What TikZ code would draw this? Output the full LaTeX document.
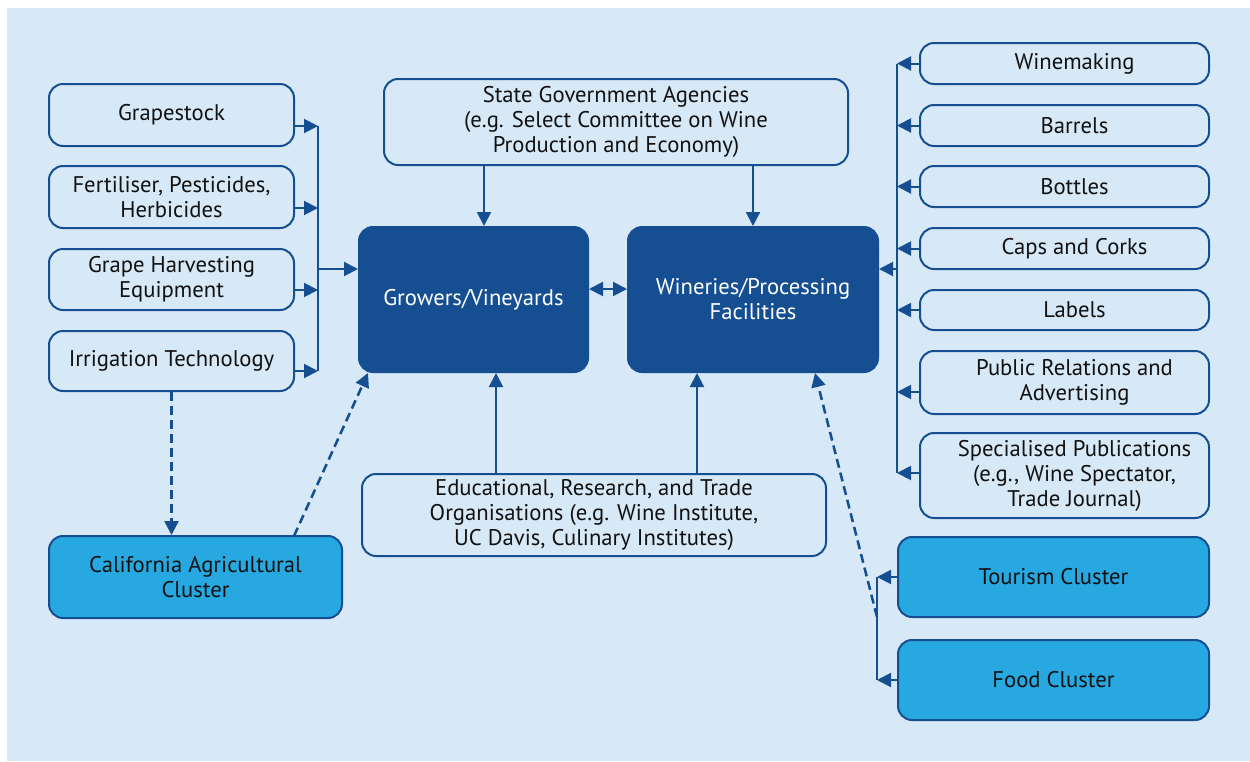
\documentclass[tikz,border=0pt]{standalone}
\usepackage{fontspec}
\setmainfont{PT Sans}
\usetikzlibrary{arrows.meta}
\newdimen\px \px=0.75pt
\definecolor{bg}{HTML}{D7E8F6}
\definecolor{dk}{HTML}{154F91}
\definecolor{cy}{HTML}{28A8E0}
\definecolor{tx}{HTML}{111111}
\begin{document}
\begin{tikzpicture}[x=0.75pt,y=-0.75pt,
  fnt/.style={font=\fontsize{17}{18.75}\selectfont},
  lbox/.style={draw=dk, line width=1.5pt, rounded corners=10.5pt, align=center,
    fnt, text=tx, inner sep=0pt},
  rbox/.style={lbox, label={[fnt, text=tx, align=center, xshift=7.5pt]center:#1}},
  dbox/.style={lbox, fill=dk, text=white},
  cbox/.style={lbox, fill=cy},
  arr/.style={draw=dk, line width=1.5pt, -{Triangle[length=10.5pt,width=10.5pt]}},
  barr/.style={draw=dk, line width=1.5pt, {Triangle[length=10.5pt,width=10.5pt]}-{Triangle[length=10.5pt,width=10.5pt]}},
  ln/.style={draw=dk, line width=1.5pt},
  dsh/.style={dash pattern=on 6.75pt off 3.75pt, line width=1.9pt}]
\fill[white] (0,0) rectangle (1250,761);
\fill[bg] (7,8) rectangle (1250,761);
\useasboundingbox (0,0) rectangle (1250,761);

% left column
\node[lbox, minimum width=245\px, minimum height=62\px] (grape) at (171.5,115) {Grapestock};
\node[lbox, minimum width=245\px, minimum height=62\px] (fert) at (171.5,197) {Fertiliser, Pesticides,\\Herbicides};
\node[lbox, minimum width=245\px, minimum height=61\px] (harv) at (171.5,279.5) {Grape Harvesting\\Equipment};
\node[lbox, minimum width=245\px, minimum height=60\px] (irr) at (171.5,361) {Irrigation Technology};

% centre
\node[lbox, minimum width=464\px, minimum height=86\px] (state) at (616,122) {State Government Agencies\\(e.g. Select Committee on Wine\\Production and Economy)};
\node[dbox, minimum width=229\px, minimum height=145\px] (grow) at (473.5,299.5) {Growers/Vineyards};
\node[dbox, minimum width=250\px, minimum height=145\px] (win) at (753,299.5) {Wineries/Processing\\Facilities};
\node[lbox, minimum width=464\px, minimum height=82\px] (edu) at (594,515) {Educational, Research, and Trade\\Organisations (e.g. Wine Institute,\\UC Davis, Culinary Institutes)};

% right column
\node[rbox={Winemaking}, minimum width=289\px, minimum height=41\px] (wm) at (1064.5,63.5) {};
\node[rbox={Barrels}, minimum width=289\px, minimum height=41\px] (bar) at (1064.5,125.5) {};
\node[rbox={Bottles}, minimum width=289\px, minimum height=41\px] (bot) at (1064.5,186.5) {};
\node[rbox={Caps and Corks}, minimum width=289\px, minimum height=41\px] (caps) at (1064.5,248.5) {};
\node[rbox={Labels}, minimum width=289\px, minimum height=40\px] (lab) at (1064.5,310) {};
\node[rbox={Public Relations and\\Advertising}, minimum width=289\px, minimum height=63\px] (pr) at (1064.5,382.5) {};
\node[rbox={Specialised Publications\\(e.g., Wine Spectator,\\Trade Journal)}, minimum width=289\px, minimum height=85\px] (spec) at (1064.5,475.5) {};

% clusters
\node[cbox, minimum width=293\px, minimum height=82\px] (cal) at (195.5,577) {California Agricultural\\Cluster};
\node[cbox, minimum width=311\px, minimum height=80\px] (tour) at (1053.5,577) {Tourism Cluster};
\node[cbox, minimum width=311\px, minimum height=80\px] (food) at (1053.5,680) {Food Cluster};

% helper coordinates
\coordinate (lbx) at (318,0);
\coordinate (ly1) at (0,126);
\coordinate (ly2) at (0,208);
\coordinate (ly3) at (0,290);
\coordinate (ly4) at (0,371);
\coordinate (lyg) at (0,269);
\coordinate (rbx) at (897,0);
\coordinate (ry6) at (0,392);
\coordinate (ry7) at (0,473);
\coordinate (ryw) at (0,269);
\coordinate (mid) at (0,289);
\coordinate (s1) at (484,0);
\coordinate (e1) at (496,0);
\coordinate (e2) at (697,0);
\coordinate (cbx) at (877,0);
\coordinate (cdash) at (877,617);
\coordinate (wtip) at (815,373);
\coordinate (calfrom) at (294,536);
\coordinate (growtip) at (368,373);

% left bracket
\draw[arr] (grape.east |- ly1) -- (lbx |- ly1);
\draw[arr] (fert.east |- ly2) -- (lbx |- ly2);
\draw[arr] (harv.east |- ly3) -- (lbx |- ly3);
\draw[arr] (irr.east |- ly4) -- (lbx |- ly4);
\draw[ln] (lbx |- ly1) -- (lbx |- ly4);
\draw[arr] (lbx |- lyg) -- (grow.west |- lyg);

% right bracket
\draw[arr] (wm.west) -- (rbx |- wm.west);
\draw[arr] (bar.west) -- (rbx |- bar.west);
\draw[arr] (bot.west) -- (rbx |- bot.west);
\draw[arr] (caps.west) -- (rbx |- caps.west);
\draw[arr] (lab.west) -- (rbx |- lab.west);
\draw[arr] (pr.west |- ry6) -- (rbx |- ry6);
\draw[arr] (spec.west |- ry7) -- (rbx |- ry7);
\draw[ln] (rbx |- wm.west) -- (rbx |- ry7);
\draw[arr] (rbx |- ryw) -- (win.east |- ryw);

% centre links
\draw[barr] (grow.east |- mid) -- (win.west |- mid);
\draw[arr] (s1 |- state.south) -- (s1 |- grow.north);
\draw[arr] (win.north |- state.south) -- (win.north);
\draw[arr] (e1 |- edu.north) -- (e1 |- grow.south);
\draw[arr] (e2 |- edu.north) -- (e2 |- win.south);

% clusters
\draw[arr, dsh] (irr.south) -- (irr.south |- cal.north);
\draw[arr, dsh] (calfrom) -- (growtip);
\draw[arr] (tour.west) -- (cbx |- tour.west);
\draw[arr] (food.west) -- (cbx |- food.west);
\draw[ln] (cbx |- tour.west) -- (cbx |- food.west);
\draw[arr, dsh] (cdash) -- (wtip);
\end{tikzpicture}
\end{document}
